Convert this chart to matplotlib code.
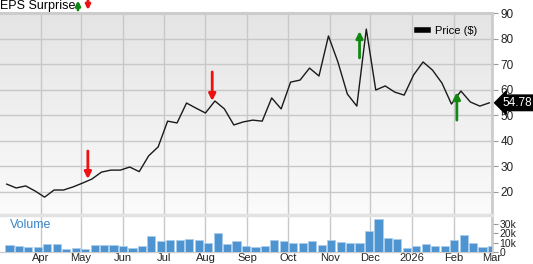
import numpy as np
import pandas as pd
import matplotlib
matplotlib.use("Agg")
import matplotlib.pyplot as plt
from matplotlib.colors import LinearSegmentedColormap
from matplotlib.lines import Line2D
from matplotlib.patches import FancyArrowPatch

plt.rcParams['font.family'] = ['Liberation Sans', 'DejaVu Sans']

# weekly closes, Mar 2025 - Feb 2026
weeks = pd.date_range("2025-03-07", periods=52, freq="7D")
price = [22.9, 21.4, 22.2, 20.2, 17.8, 20.6, 20.6, 21.8, 23.3, 24.9,
         27.6, 28.4, 28.4, 29.6, 27.8, 34.0, 37.5, 47.6, 46.9, 54.7,
         52.7, 50.8, 55.5, 52.4, 46.1, 47.3, 48.0, 47.6, 56.7, 52.4,
         62.9, 63.7, 68.4, 65.3, 81.0, 70.8, 58.2, 53.5, 83.7, 59.8,
         61.4, 59.0, 57.8, 65.7, 70.8, 67.6, 62.5, 54.3, 59.4, 55.1,
         53.5, 54.78]
volume = [7.7, 6.3, 5.6, 4.9, 8.8, 8.8, 3.5, 3.9, 3.5, 7.0,
          7.0, 7.0, 6.0, 3.9, 6.0, 17.2, 11.6, 12.6, 12.3, 14.0,
          12.3, 9.1, 20.4, 8.4, 11.2, 6.0, 5.3, 6.3, 12.3, 11.2,
          9.8, 9.5, 11.9, 7.0, 12.3, 10.5, 9.1, 9.8, 21.8, 34.4,
          15.1, 14.0, 4.2, 6.0, 8.8, 6.7, 6.0, 12.3, 17.5, 9.8,
          5.3, 6.3]  # thousands

# EPS surprise arrows: (date, tail, head)
eps_down = [("2025-05-06", 35.9, 24.9), ("2025-08-06", 66.9, 55.5)]
eps_up = [("2025-11-23", 72.4, 82.9), ("2026-02-03", 48.0, 59.0)]

last_price = "54.78"

W, H = 533, 264
fig = plt.figure(figsize=(W / 100, H / 100), dpi=100)
axp = fig.add_axes([0, (H - 215) / H, 492 / W, (215 - 13) / H])
axv = fig.add_axes([0, (H - 252) / H, 492 / W, (252 - 215) / H], sharex=axp)

# background gradient on the price panel
cmap = LinearSegmentedColormap.from_list("bg", ["#fbfbfb", "#e4e4e4"])
axp.imshow(np.linspace(0, 1, 256).reshape(-1, 1), cmap=cmap, aspect="auto",
           extent=(0, 1, 0, 1), transform=axp.transAxes, origin="lower", zorder=0)

axp.plot(weeks, price, color="#1a1a1a", lw=1.0, zorder=3)

for d, t, h in eps_down:
    axp.annotate("", xy=(pd.Timestamp(d), h), xytext=(pd.Timestamp(d), t),
                 arrowprops=dict(arrowstyle="-|>", color="#ee1111", lw=2.0,
                                 mutation_scale=10, shrinkA=0, shrinkB=0), zorder=4)
for d, t, h in eps_up:
    axp.annotate("", xy=(pd.Timestamp(d), h), xytext=(pd.Timestamp(d), t),
                 arrowprops=dict(arrowstyle="-|>", color="#118811", lw=2.0,
                                 mutation_scale=10, shrinkA=0, shrinkB=0), zorder=4)

axv.bar(weeks + pd.Timedelta(days=2), volume, width=6, color="#4d94d0",
        edgecolor="#a9cdea", linewidth=0.6, zorder=3)

axp.set_xlim(pd.Timestamp("2025-03-02"), pd.Timestamp("2026-03-01"))
axp.set_ylim(10.8, 90)
axv.set_ylim(0, 39)

months = pd.date_range("2025-04-01", "2026-03-01", freq="MS")
axv.set_xticks(months)
axv.set_xticklabels(["2026" if m.month == 1 else m.strftime("%b") for m in months])
axp.tick_params(axis="x", which="both", length=0, labelbottom=False)
axv.tick_params(axis="x", length=0, pad=1, labelsize=8, colors="#222222")

axp.set_yticks(range(20, 91, 10))
axv.set_yticks([0, 10, 20, 30])
axv.set_yticklabels(["0", "10k", "20k", "30k"])
for ax in (axp, axv):
    ax.yaxis.tick_right()
    ax.tick_params(axis="y", length=4, width=0.8, color="#999999", pad=2,
                   labelsize=8.5, labelcolor="#222222")
    ax.grid(axis="x", color="#c8c8c8", lw=1)
    ax.set_axisbelow(True)
    ax.spines["left"].set_visible(False)
    ax.spines["right"].set_color("#cccccc")
    ax.spines["right"].set_linewidth(2)
axv.tick_params(axis="y", labelsize=7.5, pad=1.5)
axp.grid(axis="y", color="#c8c8c8", lw=1)
axp.spines["top"].set_color("#cccccc")
axp.spines["top"].set_linewidth(2.2)
axp.spines["bottom"].set_visible(False)
axv.spines["top"].set_color("#e2e2e2")
axv.spines["top"].set_linewidth(2.5)
axv.spines["bottom"].set_color("#cccccc")
axv.spines["bottom"].set_linewidth(1)

axv.text(0.02, 0.72, "Volume", transform=axv.transAxes, fontsize=9,
         color="#3a86c6", va="center")

axp.legend(handles=[Line2D([], [], color="black", lw=4)], labels=["Price ($)"],
           loc="upper right", bbox_to_anchor=(0.99, 0.985), frameon=False,
           fontsize=8, handlelength=1.0, handletextpad=0.6)

# last price tag
axp.text(1.022, float(last_price), last_price, transform=axp.get_yaxis_transform(),
         ha="left", va="center", color="white", fontsize=8.5,
         bbox=dict(boxstyle="larrow,pad=0.15", fc="black", ec="black"), clip_on=False)

# header
fig.text(0, 1 - 5.5 / H, "EPS Surprise", fontsize=9, va="center", ha="left")
fig.add_artist(FancyArrowPatch(
    (78, H - 10), (78, H - 0.5), transform=None, arrowstyle="-|>",
    color="#118811", lw=2, mutation_scale=7, shrinkA=0, shrinkB=0))
fig.add_artist(FancyArrowPatch(
    (88, H - 0.5), (88, H - 10), transform=None, arrowstyle="-|>",
    color="#ee1111", lw=2, mutation_scale=7, shrinkA=0, shrinkB=0))

fig.savefig("out.png", dpi=100)
